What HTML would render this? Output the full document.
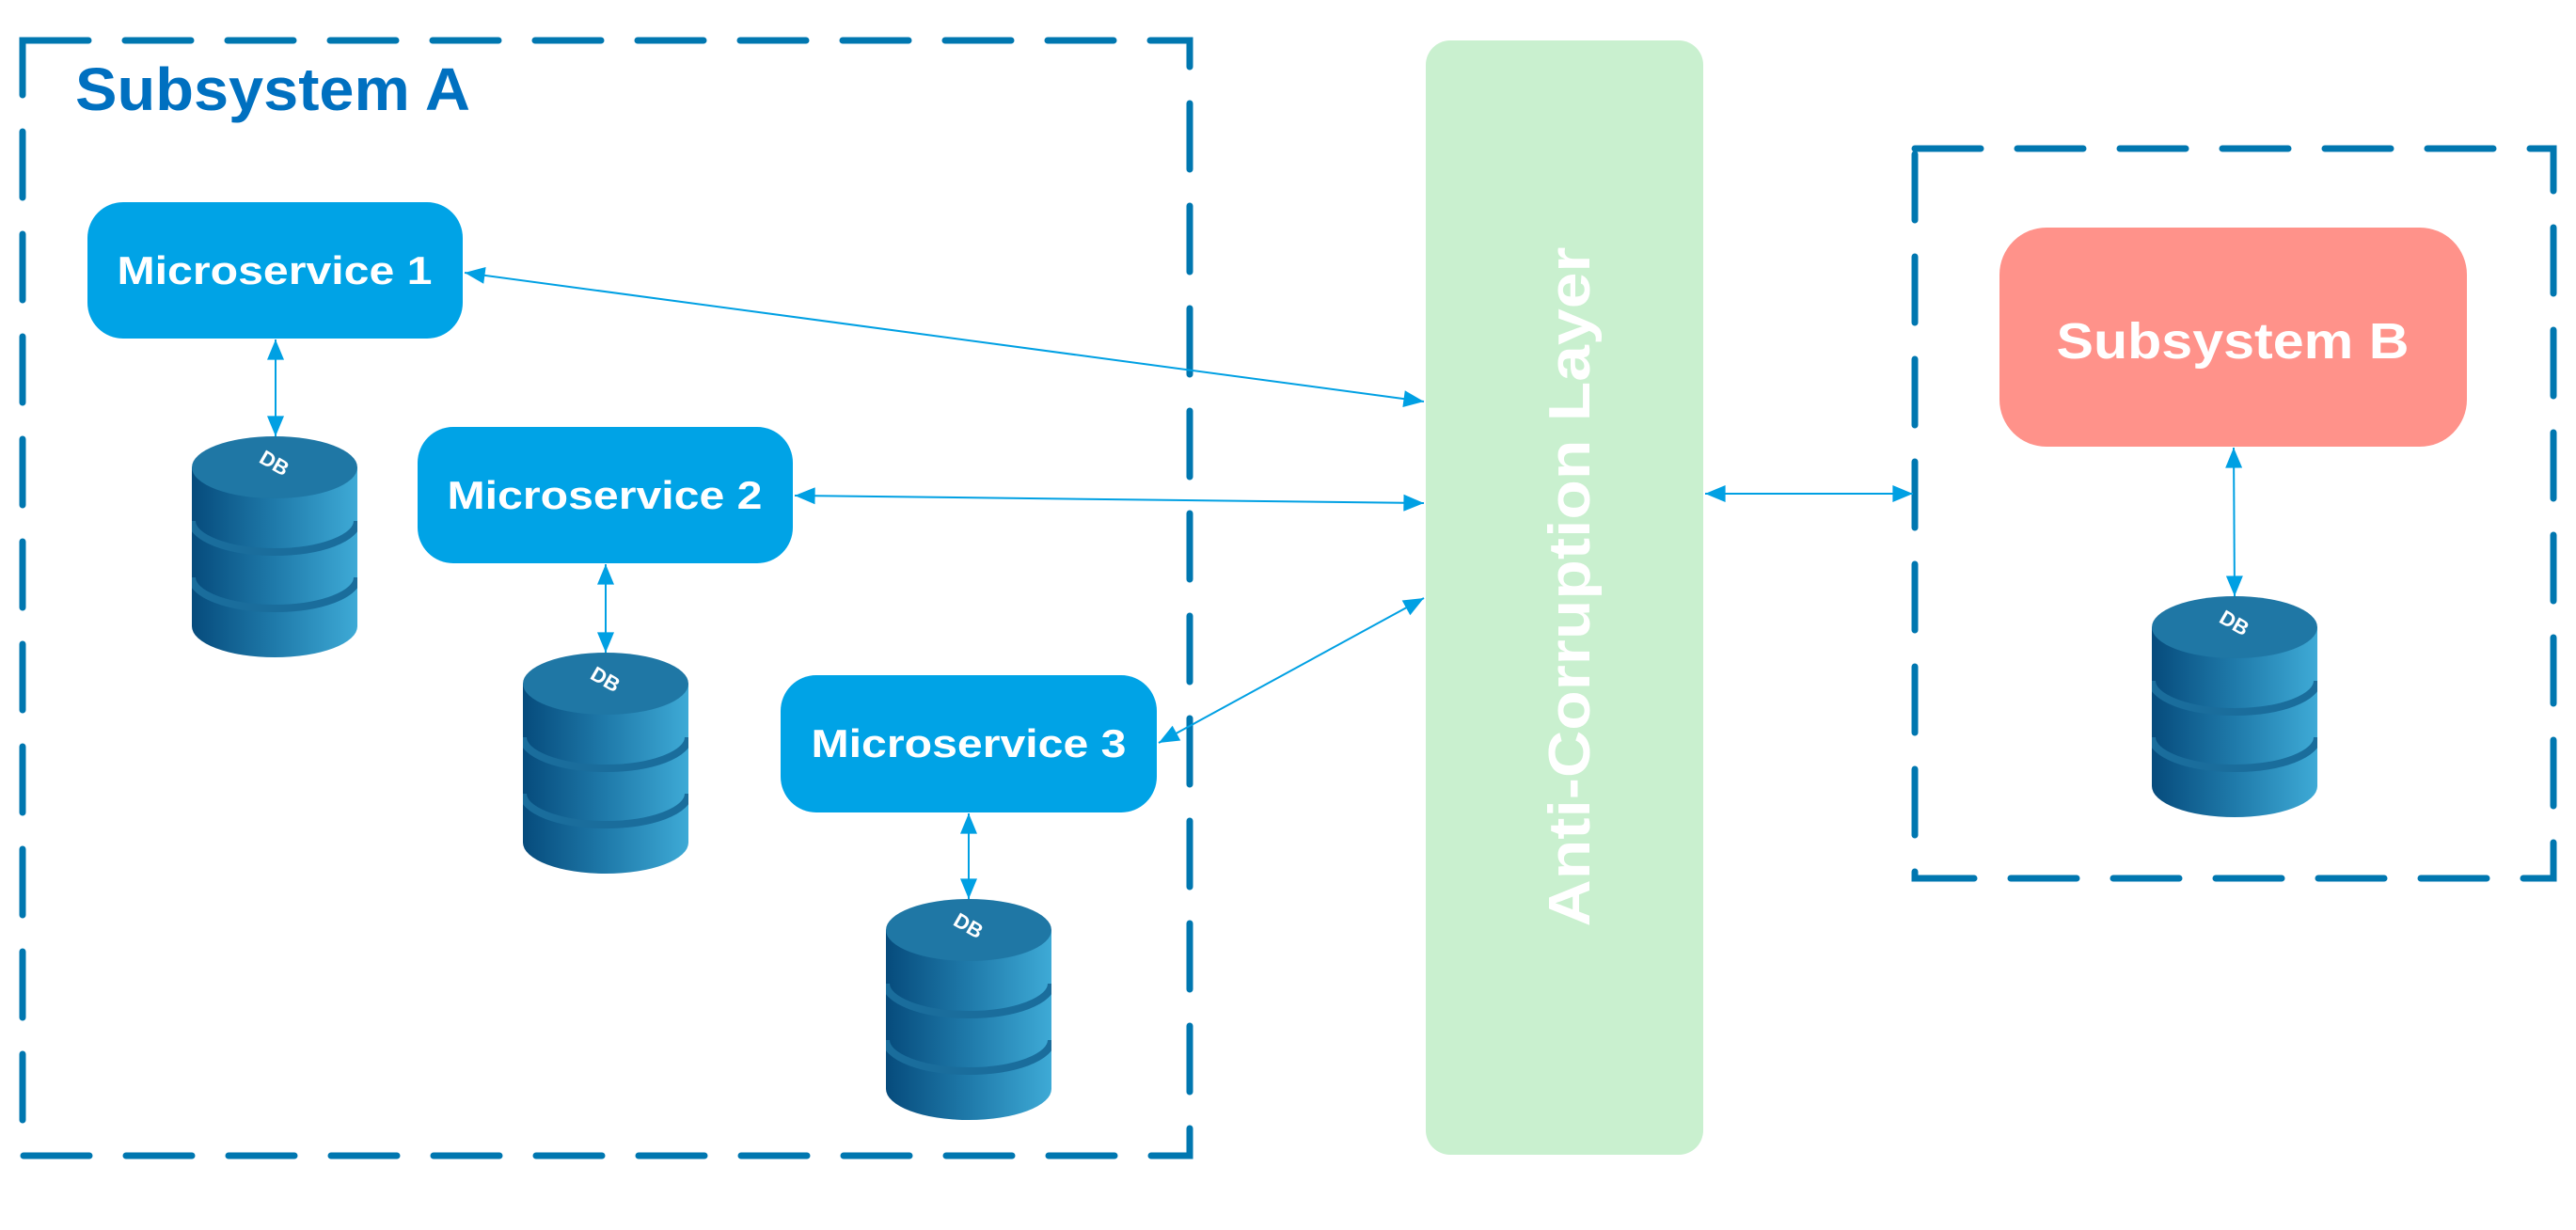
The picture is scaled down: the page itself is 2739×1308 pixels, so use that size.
<!DOCTYPE html>
<html><head><meta charset="utf-8"><style>
html,body{margin:0;padding:0;background:#fff;}
svg{display:block;}
text{font-family:"Liberation Sans",sans-serif;font-weight:bold;}
</style></head><body>
<svg width="2739" height="1308" viewBox="0 0 2739 1308" xmlns="http://www.w3.org/2000/svg">
<defs>
<linearGradient id="g" x1="0" x2="1" y1="0" y2="0">
<stop offset="0" stop-color="#064b7c"/><stop offset="0.5" stop-color="#1f7aaa"/><stop offset="1" stop-color="#3eaad6"/>
</linearGradient>
<clipPath id="dbc"><path d="M0,33 L0,202 A88,33 0 0 0 176,202 L176,33 z"/></clipPath>
<marker id="ah" viewBox="0 0 12 10" refX="12" refY="5" markerWidth="22" markerHeight="18" markerUnits="userSpaceOnUse" orient="auto-start-reverse">
<path d="M0,0 L12,5 L0,10 z" fill="#00a0e3"/>
</marker>
<g id="db">
<path d="M0,33 L0,202 A88,33 0 0 0 176,202 L176,33 z" fill="url(#g)"/>
<g clip-path="url(#dbc)">
<path d="M0,90 A88,33 0 0 0 176,90" fill="none" stroke="#1a6d9c" stroke-width="8"/>
<path d="M0,150 A88,33 0 0 0 176,150" fill="none" stroke="#1a6d9c" stroke-width="8"/>
</g>
<ellipse cx="88" cy="33" rx="88" ry="33" fill="#1f77a5"/>
<text x="88" y="36" fill="#fff" font-size="22" text-anchor="middle" transform="rotate(30 88 28)">DB</text>
</g>
</defs>

<rect x="24" y="43" width="1241" height="1186" fill="none" stroke="#0077b0" stroke-width="7" stroke-dasharray="70 39" stroke-linecap="round"/>
<text x="80" y="117" fill="#0070c0" font-size="64" textLength="420" lengthAdjust="spacingAndGlyphs">Subsystem A</text>

<rect x="1516" y="43" width="295" height="1185" rx="26" fill="#c9f0cf"/>
<text transform="translate(1690,624) rotate(-90)" fill="#fff" font-size="62" text-anchor="middle" textLength="723" lengthAdjust="spacingAndGlyphs">Anti-Corruption Layer</text>

<rect x="2036" y="158" width="679" height="776" fill="none" stroke="#0077b0" stroke-width="7" stroke-dasharray="70 39" stroke-linecap="round"/>
<rect x="2126" y="242" width="497" height="233" rx="50" fill="#ff928a"/>
<text x="2374" y="381" fill="#fff" font-size="54" text-anchor="middle" textLength="375" lengthAdjust="spacingAndGlyphs">Subsystem B</text>

<rect x="93" y="215" width="399" height="145" rx="38" fill="#00a3e6"/>
<text x="292" y="302" fill="#fff" font-size="42" text-anchor="middle" textLength="335" lengthAdjust="spacingAndGlyphs">Microservice 1</text>
<rect x="444" y="454" width="399" height="145" rx="38" fill="#00a3e6"/>
<text x="643" y="541" fill="#fff" font-size="42" text-anchor="middle" textLength="335" lengthAdjust="spacingAndGlyphs">Microservice 2</text>
<rect x="830" y="718" width="400" height="146" rx="38" fill="#00a3e6"/>
<text x="1030" y="805" fill="#fff" font-size="42" text-anchor="middle" textLength="335" lengthAdjust="spacingAndGlyphs">Microservice 3</text>

<use href="#db" x="204" y="464"/>
<use href="#db" x="556" y="694"/>
<use href="#db" x="942" y="956"/>
<use href="#db" x="2288" y="634"/>

<g stroke="#00a0e3" stroke-width="2" fill="none" marker-start="url(#ah)" marker-end="url(#ah)">
<line x1="293" y1="361" x2="293" y2="464"/>
<line x1="644" y1="600" x2="644" y2="694"/>
<line x1="1030" y1="865" x2="1030" y2="956"/>
<line x1="2375" y1="476" x2="2376" y2="634"/>
<line x1="494" y1="290" x2="1514" y2="427"/>
<line x1="845" y1="527" x2="1514" y2="535"/>
<line x1="1232" y1="790" x2="1514" y2="636"/>
<line x1="1813" y1="525" x2="2034" y2="525"/>
</g>
</svg>
</body></html>
